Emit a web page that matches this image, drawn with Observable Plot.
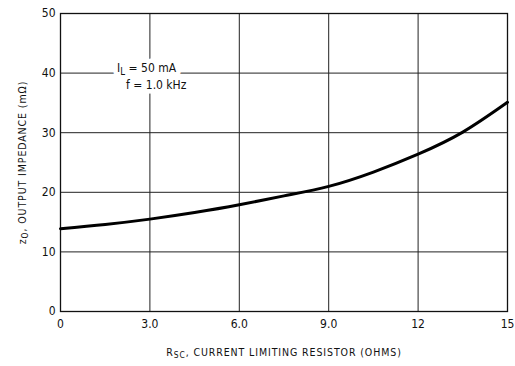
<!DOCTYPE html>
<html>
<head>
<meta charset="utf-8">
<script src="https://cdn.jsdelivr.net/npm/d3@7"></script>
<script src="https://cdn.jsdelivr.net/npm/@observablehq/plot@0.6"></script>
<style>
  html, body { margin: 0; padding: 0; background: #fff; }
  #chart svg { display: block; }
</style>
</head>
<body>
<div id="chart"></div>
<script>
// Data
const rsc = [0, 1.5, 3, 4.5, 6, 7.5, 9, 10.5, 12, 13.5, 15];
const zo  = [13.9, 14.6, 15.5, 16.6, 17.9, 19.4, 21.0, 23.4, 26.4, 30.1, 35.1];
const xTicks = [0, 3, 6, 9, 12, 15];
const xTickLabels = ["0", "3.0", "6.0", "9.0", "12", "15"];
const yTicks = [0, 10, 20, 30, 40, 50];
const yTickLabels = ["0", "10", "20", "30", "40", "50"];
const xGrid = [3, 6, 9, 12];
const yGrid = [10, 20, 30, 40];
const notes = [
  {x: 1.9, y: 40.8, text: "IL = 50 mA"},
  {x: 2.2, y: 38.0, text: "f = 1.0 kHz"}
];

const curve = rsc.map((x, i) => ({x, y: zo[i]}));
const font = "'DejaVu Sans Condensed', 'Liberation Sans', Arial, sans-serif";

const plot = Plot.plot({
  width: 515,
  height: 366,
  marginLeft: 60,
  marginRight: 8,
  marginTop: 13,
  marginBottom: 55,
  style: {fontFamily: font, fontSize: "12px", color: "#111", background: "white"},
  x: {domain: [0, 15], label: null},
  y: {domain: [0, 50], label: null},
  marks: [
    Plot.gridX(xGrid, {stroke: "#222", strokeOpacity: 1, strokeWidth: 1}),
    Plot.gridY(yGrid, {stroke: "#222", strokeOpacity: 1, strokeWidth: 1}),
    Plot.frame({stroke: "#111", strokeWidth: 1.3}),
    Plot.axisX(xTicks, {tickSize: 0, tickPadding: 8, tickFormat: (d, i) => xTickLabels[i], fontSize: 12}),
    Plot.axisY(yTicks, {tickSize: 0, tickPadding: 5, tickFormat: (d, i) => yTickLabels[i], fontSize: 12}),
    Plot.line(curve, {x: "x", y: "y", curve: "natural", stroke: "#000", strokeWidth: 3}),
    Plot.text(notes, {x: "x", y: "y", text: "text", textAnchor: "start", fontSize: 12,
      fill: "white", stroke: "white", strokeWidth: 9, className: "notehalo"}),
    Plot.text(notes, {x: "x", y: "y", text: "text", textAnchor: "start", fontSize: 12,
      fill: "#111", className: "note"}),
    Plot.text(["RSC, CURRENT LIMITING RESISTOR (OHMS)"], {frameAnchor: "bottom", textAnchor: "middle", dy: 44, fontSize: 10.5,
      fill: "#111", className: "xtitle"}),
    Plot.text(["zO, OUTPUT IMPEDANCE (mΩ)"], {frameAnchor: "left", textAnchor: "middle", dx: -38, rotate: -90, fontSize: 10.5,
      fill: "#111", className: "ytitle"})
  ]
});

document.getElementById("chart").appendChild(plot);

// subscripts
const svg = d3.select(plot);
function subscript(sel, main, sub, rest) {
  sel.each(function() {
    const t = d3.select(this);
    t.text(null);
    t.append("tspan").text(main);
    t.append("tspan").attr("dy", "0.3em").attr("font-size", "0.8em").text(sub);
    t.append("tspan").attr("dy", "-0.24em").text(rest);
  });
}
svg.selectAll(".note text, .notehalo text").filter(function(){ return this.textContent.startsWith("IL"); })
  .call(subscript, "I", "L", " = 50 mA");
subscript(svg.selectAll(".xtitle text"), "R", "SC", ", CURRENT LIMITING RESISTOR (OHMS)");
subscript(svg.selectAll(".ytitle text"), "z", "O", ", OUTPUT IMPEDANCE (mΩ)");
svg.selectAll(".xtitle text, .ytitle text").attr("letter-spacing", "0.9px");
</script>
</body>
</html>
